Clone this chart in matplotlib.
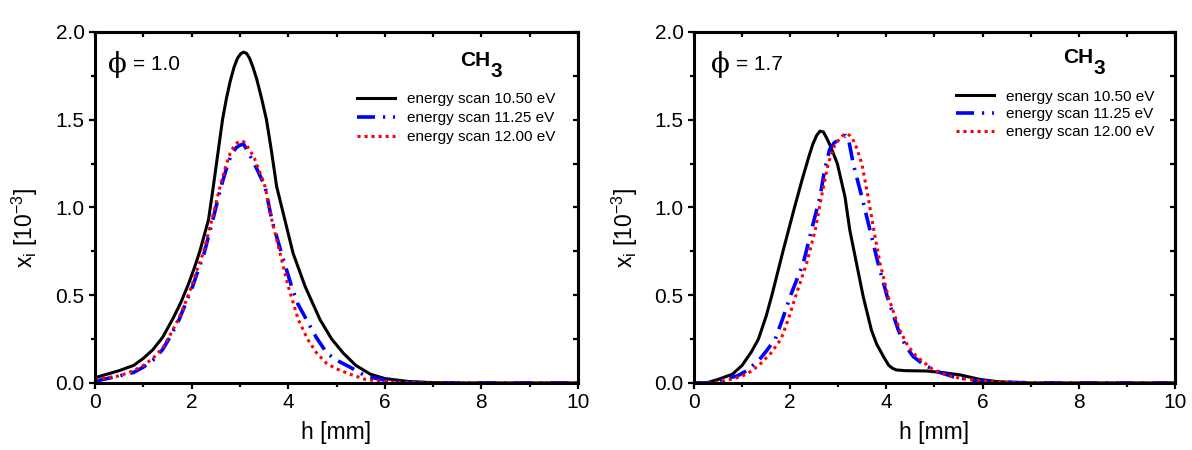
import matplotlib
matplotlib.use("Agg")
import matplotlib.pyplot as plt
from matplotlib.ticker import FormatStrFormatter

plt.rcParams["font.family"] = ["Liberation Sans", "DejaVu Sans"]
plt.rcParams["mathtext.fontset"] = "custom"
plt.rcParams["mathtext.rm"] = "Liberation Sans"
plt.rcParams["mathtext.it"] = "Liberation Sans"
plt.rcParams["mathtext.bf"] = "Liberation Sans:bold"

# ---- phi = 1.0 ----
h1_105 = [0, 0.5, 0.8, 1.0, 1.2, 1.4, 1.62, 1.78, 1.93, 2.05, 2.17, 2.35, 2.45, 2.55, 2.64,
          2.72, 2.8, 2.88, 2.95, 3.02, 3.08, 3.14, 3.2, 3.27, 3.35, 3.45, 3.55, 3.66, 3.76,
          3.93, 4.1, 4.35, 4.66, 4.9, 5.14, 5.4, 5.7, 6.0, 6.5, 7.0, 7.5, 10.0]
x1_105 = [0.03, 0.07, 0.10, 0.14, 0.19, 0.26, 0.37, 0.46, 0.56, 0.65, 0.75, 0.93, 1.12, 1.32, 1.5,
          1.62, 1.72, 1.80, 1.85, 1.877, 1.885, 1.877, 1.85, 1.80, 1.73, 1.62, 1.5, 1.31, 1.12,
          0.93, 0.74, 0.55, 0.36, 0.25, 0.17, 0.10, 0.05, 0.025, 0.008, 0.002, 0.0, 0.0]

h1_1125 = [0, 0.5, 0.8, 1.0, 1.2, 1.4, 1.55, 1.74, 2.02, 2.26, 2.44, 2.61, 2.72, 2.82, 2.92,
           3.0, 3.08, 3.2, 3.35, 3.52, 3.66, 3.86, 4.07, 4.2, 4.38, 4.58, 4.8, 5.0, 5.28,
           5.6, 6.0, 6.5, 7.0, 10.0]
x1_1125 = [0.01, 0.04, 0.06, 0.09, 0.13, 0.19, 0.26, 0.36, 0.55, 0.74, 0.93, 1.12, 1.22, 1.30, 1.34,
           1.355, 1.36, 1.30, 1.22, 1.12, 0.93, 0.74, 0.55, 0.45, 0.36, 0.26, 0.17, 0.13, 0.09,
           0.04, 0.015, 0.003, 0.0, 0.0]

h1_120 = [0, 0.5, 0.8, 1.0, 1.2, 1.4, 1.55, 1.72, 1.86, 2.0, 2.12, 2.24, 2.42, 2.59, 2.7, 2.8,
          2.88, 2.95, 3.04, 3.1, 3.15, 3.22, 3.3, 3.4, 3.52, 3.66, 3.83, 4.0, 4.21, 4.4, 4.59,
          4.8, 5.0, 5.28, 5.6, 6.0, 6.5, 7.0, 10.0]
x1_120 = [0.02, 0.04, 0.07, 0.10, 0.14, 0.20, 0.27, 0.36, 0.45, 0.55, 0.65, 0.74, 0.93, 1.12, 1.23, 1.31,
          1.35, 1.37, 1.38, 1.37, 1.35, 1.32, 1.28, 1.21, 1.12, 0.93, 0.74, 0.55, 0.36, 0.25, 0.17,
          0.11, 0.08, 0.05, 0.02, 0.008, 0.002, 0.0, 0.0]

# ---- phi = 1.7 ----
h2_105 = [0, 0.25, 0.5, 0.8, 1.0, 1.2, 1.34, 1.5, 1.62, 1.85, 2.09, 2.25, 2.4, 2.47, 2.55, 2.62,
          2.69, 2.75, 2.82, 2.88, 2.98, 3.14, 3.24, 3.38, 3.52, 3.69, 3.8, 3.94, 4.05, 4.13,
          4.21, 4.4, 4.84, 5.2, 5.53, 5.95, 6.3, 6.7, 7.0, 10.0]
x2_105 = [0.0, 0.0, 0.02, 0.05, 0.10, 0.18, 0.25, 0.38, 0.50, 0.75, 1.0, 1.16, 1.30, 1.36, 1.41, 1.435,
          1.43, 1.40, 1.36, 1.32, 1.25, 1.06, 0.87, 0.68, 0.49, 0.30, 0.22, 0.15, 0.10, 0.083,
          0.074, 0.07, 0.068, 0.058, 0.046, 0.02, 0.008, 0.002, 0.0, 0.0]

h2_1125 = [0, 0.3, 0.6, 0.9, 1.1, 1.35, 1.5, 1.69, 1.85, 2.01, 2.27, 2.47, 2.62, 2.72, 2.82,
           2.92, 3.05, 3.15, 3.22, 3.31, 3.49, 3.66, 3.83, 4.02, 4.25, 4.4, 4.56, 4.8, 5.11,
           5.4, 5.8, 6.3, 7.0, 7.5, 10.0]
x2_1125 = [0.0, 0.0, 0.02, 0.04, 0.07, 0.13, 0.18, 0.25, 0.37, 0.50, 0.68, 0.90, 1.06, 1.22, 1.33,
           1.37, 1.39, 1.41, 1.38, 1.25, 1.06, 0.87, 0.68, 0.49, 0.30, 0.21, 0.15, 0.10, 0.06,
           0.035, 0.015, 0.005, 0.001, 0.0, 0.0]

h2_120 = [0, 0.3, 0.6, 0.9, 1.1, 1.35, 1.6, 1.81, 1.97, 2.12, 2.34, 2.52, 2.65, 2.79, 2.92,
          3.05, 3.12, 3.17, 3.24, 3.3, 3.38, 3.49, 3.62, 3.74, 3.87, 4.04, 4.28, 4.45, 4.63,
          4.98, 5.25, 5.53, 6.0, 6.5, 7.0, 7.5, 10.0]
x2_120 = [0.0, 0.0, 0.01, 0.03, 0.05, 0.10, 0.17, 0.25, 0.37, 0.50, 0.68, 0.87, 1.06, 1.25, 1.35,
          1.40, 1.415, 1.42, 1.41, 1.39, 1.34, 1.25, 1.06, 0.87, 0.68, 0.49, 0.30, 0.21, 0.15,
          0.074, 0.045, 0.027, 0.01, 0.003, 0.001, 0.0, 0.0]

labels = ["energy scan 10.50 eV", "energy scan 11.25 eV", "energy scan 12.00 eV"]
phi_values = ["1.0", "1.7"]
species = "CH"
x_ticks = [0, 2, 4, 6, 8, 10]
y_ticks = [0.0, 0.5, 1.0, 1.5, 2.0]
x_minor = [1, 3, 5, 7, 9]
y_minor = [0.25, 0.75, 1.25, 1.75]

panels = [
    (h1_105, x1_105, h1_1125, x1_1125, h1_120, x1_120),
    (h2_105, x2_105, h2_1125, x2_1125, h2_120, x2_120),
]

fig = plt.figure(figsize=(11.92, 4.5), dpi=100)
axes_rects = [[0.0797, 0.149, 0.4052, 0.780], [0.5822, 0.149, 0.4035, 0.780]]

styles = [
    dict(color="black", lw=2.2, ls="-"),
    dict(color="#0000ff", lw=2.6, ls=(0, (5, 2.2, 0.6, 2.2))),
    dict(color="#ff0000", lw=2.2, ls=(0, (1, 1.3))),
]

legend_pos = [(0.543, 0.828), (0.545, 0.836)]
legend_spacing = [0.33, 0.26]
phi_pos = [0.027, 0.036]
ch_pos = [(0.756, 0.903), (0.767, 0.911)]

for i, (rect, data) in enumerate(zip(axes_rects, panels)):
    ax = fig.add_axes(rect)
    for j in range(3):
        ax.plot(data[2 * j], data[2 * j + 1], label=labels[j], **styles[j])
    ax.set_xlim(0, 10)
    ax.set_ylim(0, 2.0)
    ax.set_xticks(x_ticks)
    ax.set_yticks(y_ticks)
    ax.set_xticks(x_minor, minor=True)
    ax.set_yticks(y_minor, minor=True)
    ax.xaxis.set_major_formatter(FormatStrFormatter("%d"))
    ax.yaxis.set_major_formatter(FormatStrFormatter("%.1f"))
    for sp in ax.spines.values():
        sp.set_linewidth(2.2)
    ax.tick_params(which="major", direction="out", length=4.5, width=1.6,
                   labelsize=15, pad=3)
    ax.tick_params(which="minor", direction="out", length=2.6, width=1.6)

    # inward ticks on the top and right frame edges
    top = ax.secondary_xaxis("top")
    top.set_xticks(x_ticks)
    top.set_xticks(x_minor, minor=True)
    top.tick_params(which="both", direction="in", length=3.5, width=1.6, labeltop=False)
    right = ax.secondary_yaxis("right")
    right.set_yticks(y_ticks)
    right.set_yticks(y_minor, minor=True)
    right.tick_params(which="both", direction="in", length=3.5, width=1.6, labelright=False)
    top.spines["top"].set_linewidth(2.2)
    right.spines["right"].set_linewidth(2.2)

    ax.set_xlabel("h [mm]", fontsize=16.5, labelpad=6)
    ax.set_ylabel(r"x$_\mathrm{i}$ [10$^{-3}$]", fontsize=16.5)
    ax.yaxis.set_label_coords(-0.113, 0.44)

    ax.legend(loc="upper left", bbox_to_anchor=legend_pos[i], frameon=False,
              fontsize=11, handlelength=2.5, handletextpad=0.75,
              labelspacing=legend_spacing[i], borderpad=0, borderaxespad=0)

    px = phi_pos[i]
    ax.text(px, 0.907, "\u03d5", transform=ax.transAxes, fontsize=20,
            family=["DejaVu Serif"], va="center", ha="left")
    ax.text(px + 0.052, 0.892, "= " + phi_values[i], transform=ax.transAxes,
            fontsize=15, va="baseline", ha="left")

    cx, cy = ch_pos[i]
    ch = ax.text(cx, cy, species, transform=ax.transAxes, fontsize=15,
                 fontweight="bold", va="baseline", ha="left")
    ax.annotate("3", xy=(1, 0), xycoords=ch, xytext=(0.5, -4.8),
                textcoords="offset points", fontsize=15, fontweight="bold",
                va="baseline", ha="left")

fig.savefig("out.png", dpi=100)
